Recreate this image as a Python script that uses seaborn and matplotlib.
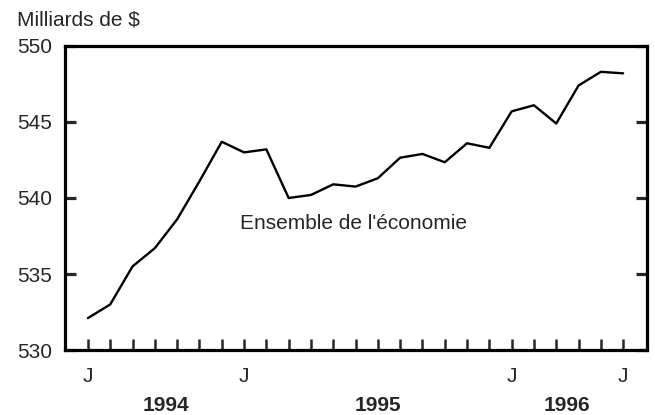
import numpy as np
import pandas as pd
import matplotlib
matplotlib.use('Agg')
import matplotlib.pyplot as plt
import seaborn as sns

# Monthly values, June 1994 to June 1996 (billions of $)
months = list(range(25))
values = [532.1, 533.0, 535.5, 536.7, 538.6, 541.1, 543.7, 543.0, 543.2,
          540.0, 540.2, 540.9, 540.75, 541.3, 542.65, 542.9, 542.35, 543.6,
          543.3, 545.7, 546.1, 544.9, 547.4, 548.3, 548.2]
month_labels = ['J', '', '', '', '', '', '', 'J', '', '', '', '', '', '', '',
                '', '', '', '', 'J', '', '', '', '', 'J']
year_breaks = [7, 19]
years = ['1994', '1995', '1996']
year_pos = [3.5, 13, 21.5]
y_ticks = [530, 535, 540, 545, 550]

sns.set_style('ticks')
plt.rcParams['font.family'] = ['Liberation Sans', 'DejaVu Sans']

df = pd.DataFrame({'mois': months, 'valeur': values})

fig = plt.figure(figsize=(6.55, 4.15), dpi=100)
ax = fig.add_axes([0.0992, 0.1566, 0.8886, 0.7326])

sns.lineplot(data=df, x='mois', y='valeur', color='black', linewidth=1.7, ax=ax)

ax.set_xlim(-1.03, 25.07)
ax.set_ylim(530, 550)
ax.set_xlabel('')
ax.set_ylabel('')

for s in ax.spines.values():
    s.set_visible(True)
    s.set_linewidth(2.3)
    s.set_color('black')

ax.set_yticks(y_ticks)
ax.set_yticklabels([str(v) for v in y_ticks], fontsize=15)
ax.tick_params(axis='y', direction='in', length=8, width=2.3, pad=9,
               right=True, left=True, labelright=False)

ax.set_xticks(months)
ax.set_xticklabels(month_labels, fontsize=15)
ax.set_xticks(year_breaks, minor=True)
ax.tick_params(axis='x', which='major', direction='in', length=8, width=1.8, pad=12)
ax.tick_params(axis='x', which='minor', direction='in', length=22, width=1.8)

for yr, xp in zip(years, year_pos):
    ax.text(xp, -0.181, yr, transform=ax.get_xaxis_transform(), ha='center',
            va='center', fontsize=15, fontweight='bold')

ax.text(11.9, 538.3, "Ensemble de l'économie", ha='center', va='center', fontsize=15)
fig.text(0.026, 0.952, 'Milliards de $', ha='left', va='center', fontsize=15)

fig.savefig('out.png', dpi=100)
